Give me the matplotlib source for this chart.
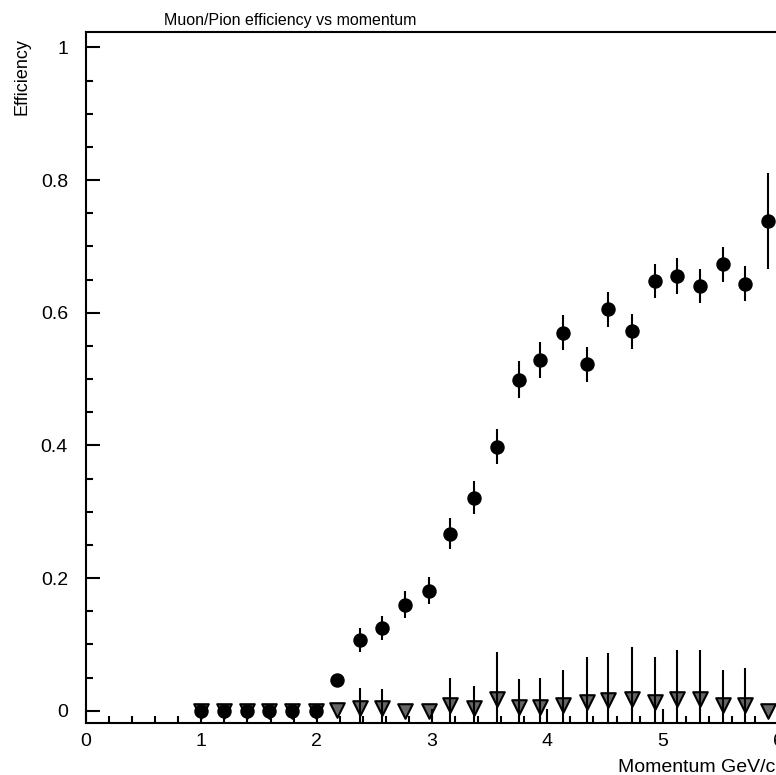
import matplotlib
matplotlib.use("Agg")
import matplotlib.pyplot as plt
from matplotlib.ticker import MultipleLocator

plt.rcParams["font.family"] = ["Liberation Sans", "DejaVu Sans"]

# momentum bin centres (GeV/c)
momentum = [1.00, 1.20, 1.40, 1.59, 1.79, 1.99, 2.18, 2.38, 2.57, 2.77, 2.97, 3.16, 3.36,
            3.56, 3.75, 3.94, 4.14, 4.34, 4.53, 4.73, 4.93, 5.12, 5.32, 5.52, 5.71, 5.91]

# muon efficiency
muon_eff = [0, 0, 0, 0, 0, 0, 0.047, 0.107, 0.125, 0.160, 0.181, 0.267, 0.321,
            0.398, 0.499, 0.529, 0.570, 0.522, 0.605, 0.572, 0.648, 0.655, 0.640, 0.673, 0.644, 0.738]
muon_err = [0, 0, 0, 0, 0, 0, 0.008, 0.018, 0.018, 0.020, 0.020, 0.023, 0.025,
            0.026, 0.028, 0.027, 0.026, 0.026, 0.026, 0.026, 0.026, 0.027, 0.026, 0.026, 0.027, 0.072]

# pion (mis-id) efficiency
pion_eff = [0, 0, 0, 0, 0, 0, 0.0015, 0.004, 0.004, 0.0, 0.0, 0.008, 0.004,
            0.017, 0.005, 0.005, 0.009, 0.013, 0.016, 0.018, 0.013, 0.018, 0.018, 0.009, 0.009, 0.0]
pion_err = [0, 0, 0, 0, 0, 0, 0, 0.031, 0.029, 0, 0, 0.042, 0.033,
            0.072, 0.043, 0.045, 0.052, 0.068, 0.071, 0.078, 0.068, 0.074, 0.074, 0.052, 0.056, 0]

fig = plt.figure(figsize=(7.76, 7.75), dpi=100)
ax = fig.add_axes([86 / 776, 52 / 775, 692 / 776, 691 / 775])

ax.errorbar(momentum, muon_eff, yerr=muon_err, fmt="o", color="black",
            markersize=9.4, elinewidth=1.5, capsize=0, zorder=3)
ax.errorbar(momentum, pion_eff, yerr=pion_err, fmt="none", ecolor="black",
            elinewidth=1.5, capsize=0, zorder=4)
# hatched-looking triangles: translucent black fill keeps the overlap with the circles black
ax.scatter(momentum, pion_eff, marker="v", s=110, facecolors=(0, 0, 0, 0.6),
           edgecolors="black", linewidths=1.5, zorder=5)

ax.set_xlim(0, 6)
ax.set_ylim(-0.0185, 1.0232)

ax.xaxis.set_minor_locator(MultipleLocator(0.2))
ax.yaxis.set_minor_locator(MultipleLocator(0.05))
ax.set_yticks([0, 0.2, 0.4, 0.6, 0.8, 1.0])
ax.set_yticklabels(["0", "0.2", "0.4", "0.6", "0.8", "1"])
ax.set_xticks([0, 1, 2, 3, 4, 5, 6])
ax.set_xticklabels(["0", "1", "2", "3", "4", "5", "6"])

ax.tick_params(which="both", direction="in", top=False, right=False, width=1.5)
ax.tick_params(which="major", length=10)
ax.tick_params(which="minor", length=5)
ax.tick_params(axis="y", which="major", pad=13, labelsize=14)
ax.tick_params(axis="x", which="major", pad=7, labelsize=14)

for side in ["left", "bottom", "top"]:
    ax.spines[side].set_linewidth(1.5)
ax.spines["right"].set_visible(False)

fig.text(290 / 776, 1 - 25 / 775, "Muon/Pion efficiency vs momentum",
         ha="center", va="baseline", fontsize=11.5)
fig.text(22 / 776, 1 - 38 / 775, "Efficiency", rotation=90,
         ha="center", va="top", fontsize=13)
fig.text(618 / 776, 1 - 772 / 775, "Momentum GeV/c",
         ha="left", va="baseline", fontsize=14)

fig.savefig("out.png", dpi=100)
